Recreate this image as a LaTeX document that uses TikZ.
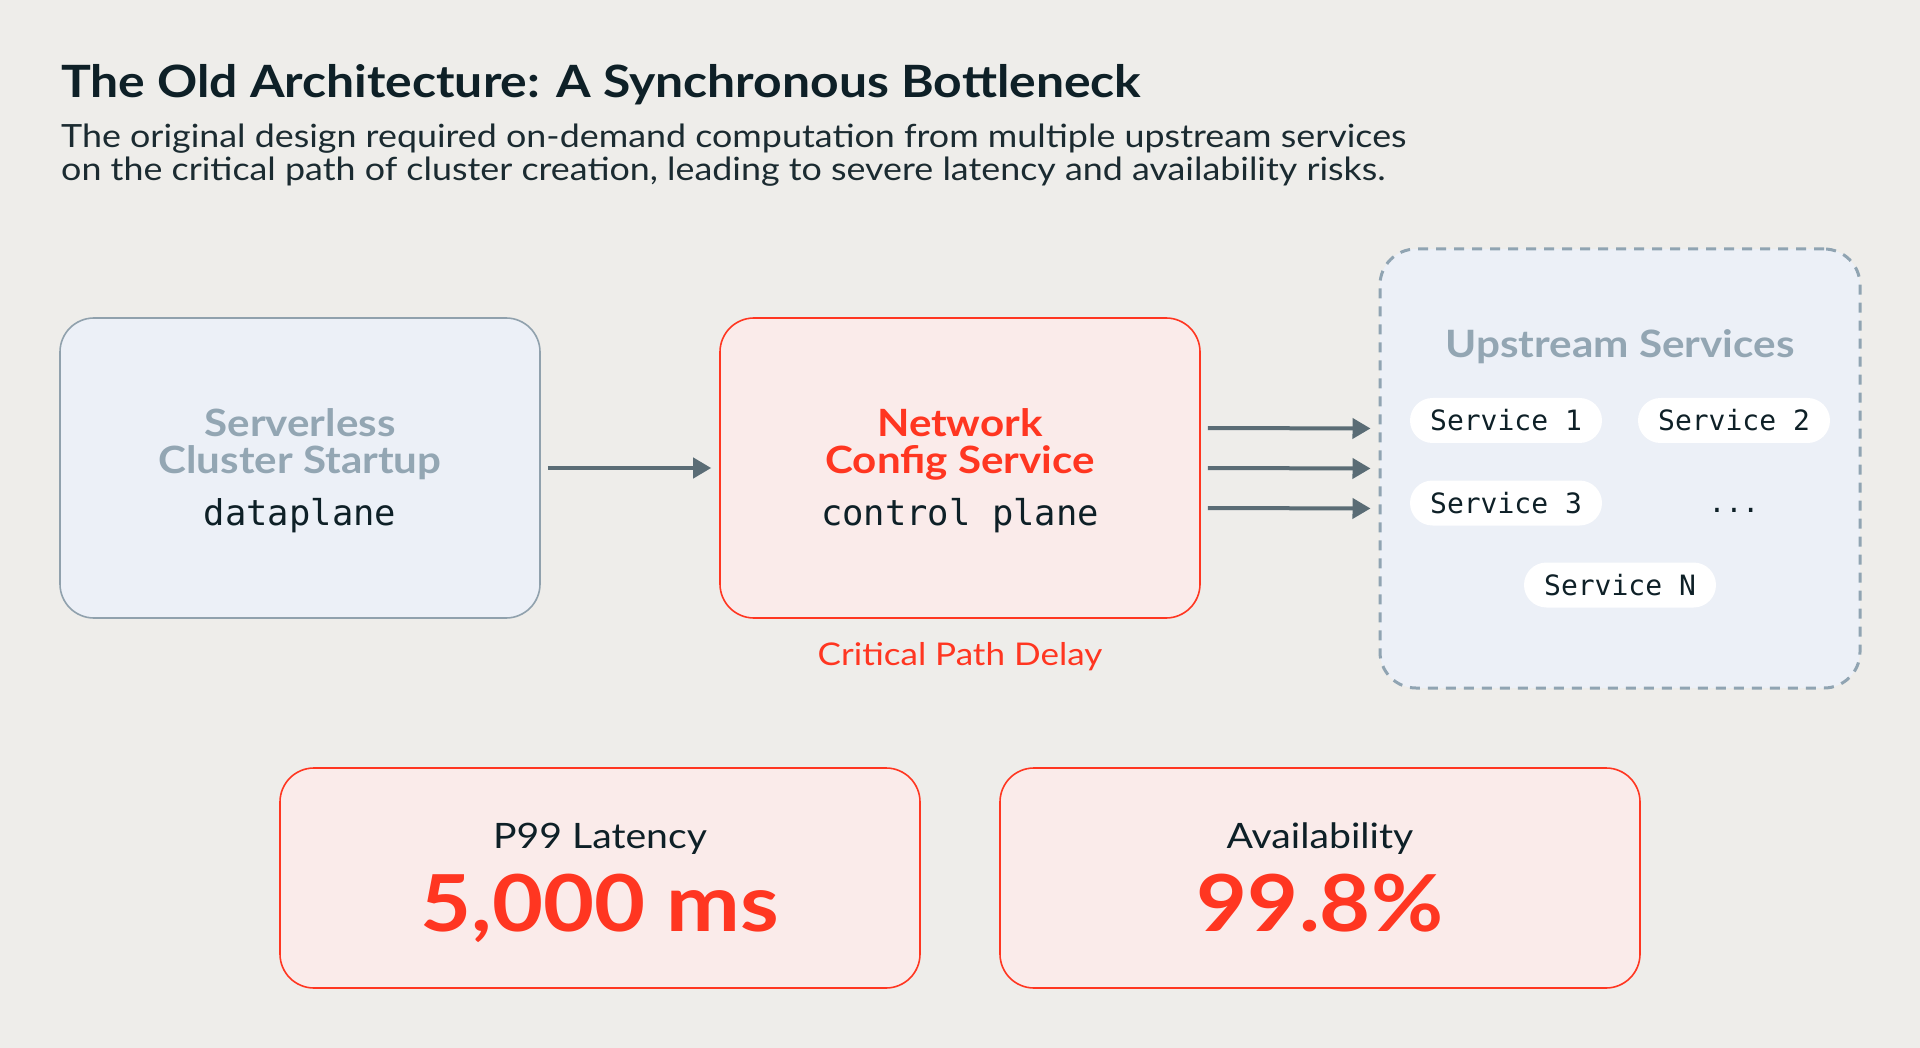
\documentclass[tikz,border=0pt]{standalone}
\usepackage{fontspec}
\setmainfont{Lato}[FakeStretch=1.12]
\newfontfamily\monof{DejaVu Sans Mono}
\usetikzlibrary{arrows.meta,calc}
\definecolor{bg}{HTML}{EEEDEA}
\definecolor{ink}{HTML}{0E2027}
\definecolor{subink}{HTML}{1B2B31}
\definecolor{bluefill}{HTML}{ECF0F7}
\definecolor{blueline}{HTML}{90A1AD}
\definecolor{bluetext}{HTML}{93A6B3}
\definecolor{redline}{HTML}{FF3621}
\definecolor{redfill}{HTML}{FAEBEA}
\definecolor{arrowc}{HTML}{5A6C75}
\definecolor{dashc}{HTML}{90A4B2}
\tikzset{
  bigbox/.style={rectangle, rounded corners=34pt, line width=1.6pt, minimum width=480pt, minimum height=300pt, inner sep=0pt},
  bluebox/.style={bigbox, draw=blueline, fill=bluefill},
  redbox/.style={bigbox, draw=redline, fill=redfill},
  statbox/.style={rectangle, rounded corners=34pt, line width=1.6pt, draw=redline, fill=redfill, minimum width=640pt, minimum height=220pt, inner sep=0pt},
  pill/.style={rectangle, rounded corners=22.5pt, fill=white, minimum width=192pt, minimum height=45pt, inner sep=0pt, font=\monof\fontsize{28}{32}\selectfont, text=ink},
  arr/.style={draw=arrowc, line width=4pt, -{Triangle[length=18pt,width=20pt]}},
  headb/.style={font=\bfseries\fontsize{37.6}{42}\selectfont, anchor=base},
  monolab/.style={font=\monof\fontsize{35.5}{40}\selectfont, text=ink, anchor=base},
}
\begin{document}
\begin{tikzpicture}[x=1pt,y=-1pt]
\useasboundingbox (0,0) rectangle (1920,1048);
\fill[bg] (0,0) rectangle (1920,1048);

% title
\node[anchor=base west, inner sep=0pt, text=ink, font=\bfseries\fontsize{44.5}{50}\selectfont] (title) at (61,98) {The Old Architecture: A Synchronous Bottleneck};
\node[anchor=base west, inner sep=0pt, text=subink, font=\fontsize{32}{35}\selectfont] (sub1) at (61,148) {The original design required on-demand computation from multiple upstream services};
\node[anchor=base west, inner sep=0pt, text=subink, font=\fontsize{32}{35}\selectfont] (sub2) at (61,181) {on the critical path of cluster creation, leading to severe latency and availability risks.};

% boxes
\node[bluebox] (b1) at (300,468) {};
\node[redbox] (b2) at (960,468) {};
\node[rectangle, rounded corners=36pt, draw=dashc, fill=bluefill, line width=3pt, dash pattern=on 10pt off 8pt, minimum width=480pt, minimum height=439pt, inner sep=0pt] (up) at (1620,468.5) {};

\node[headb, text=bluetext] (s1) at (300,437) {Serverless};
\node[headb, text=bluetext] (s2) at (300,473) {Cluster Startup};
\node[monolab] (s3) at (300,525) {dataplane};

\node[headb, text=redline] (n1) at (960,437) {Network};
\node[headb, text=redline] (n2) at (960,473) {Config Service};
\node[monolab] (n3) at (960,525) {control plane};

\node[anchor=base, text=redline, font=\fontsize{31.3}{36}\selectfont] (crit) at (960,665) {Critical Path Delay};

\node[anchor=base, text=bluetext, font=\bfseries\fontsize{37.7}{42}\selectfont] (uptitle) at (1620,358) {Upstream Services};

\node[pill] (p1) at (1506,420.5) {Service 1};
\node[pill] (p2) at (1734,420.5) {Service 2};
\node[pill] (p3) at (1506,503) {Service 3};
\node[anchor=base, text=ink, font=\monof\fontsize{28}{32}\selectfont] (dots) at (1734,512) {...};
\node[pill] (pn) at (1620,585) {Service N};

% arrows
\draw[arr, shorten <=7pt, shorten >=8pt] (b1.east) -- (b2.west);
\draw[arr, shorten <=7pt, shorten >=8pt] ($(b2.east)+(0,-40)$) -- ($(up.west)+(0,-40)$);
\draw[arr, shorten <=7pt, shorten >=8pt] (b2.east) -- (up.west);
\draw[arr, shorten <=7pt, shorten >=8pt] ($(b2.east)+(0,40)$) -- ($(up.west)+(0,40)$);

% stat boxes
\node[statbox] (lat) at (600,878) {};
\node[statbox] (av) at (1320,878) {};
\node[anchor=base, text=ink, font=\fontsize{35}{38}\selectfont] (latl) at (600,848) {P99 Latency};
\node[anchor=base, text=redline, font=\bfseries\fontsize{78.6}{88}\selectfont] (latv) at (600,931) {5,000 ms};
\node[anchor=base, text=ink, font=\fontsize{35}{38}\selectfont] (avl) at (1320,848) {Availability};
\node[anchor=base, text=redline, font=\bfseries\fontsize{78.6}{88}\selectfont] (avv) at (1320,931) {99.8\%};
\end{tikzpicture}
\end{document}
